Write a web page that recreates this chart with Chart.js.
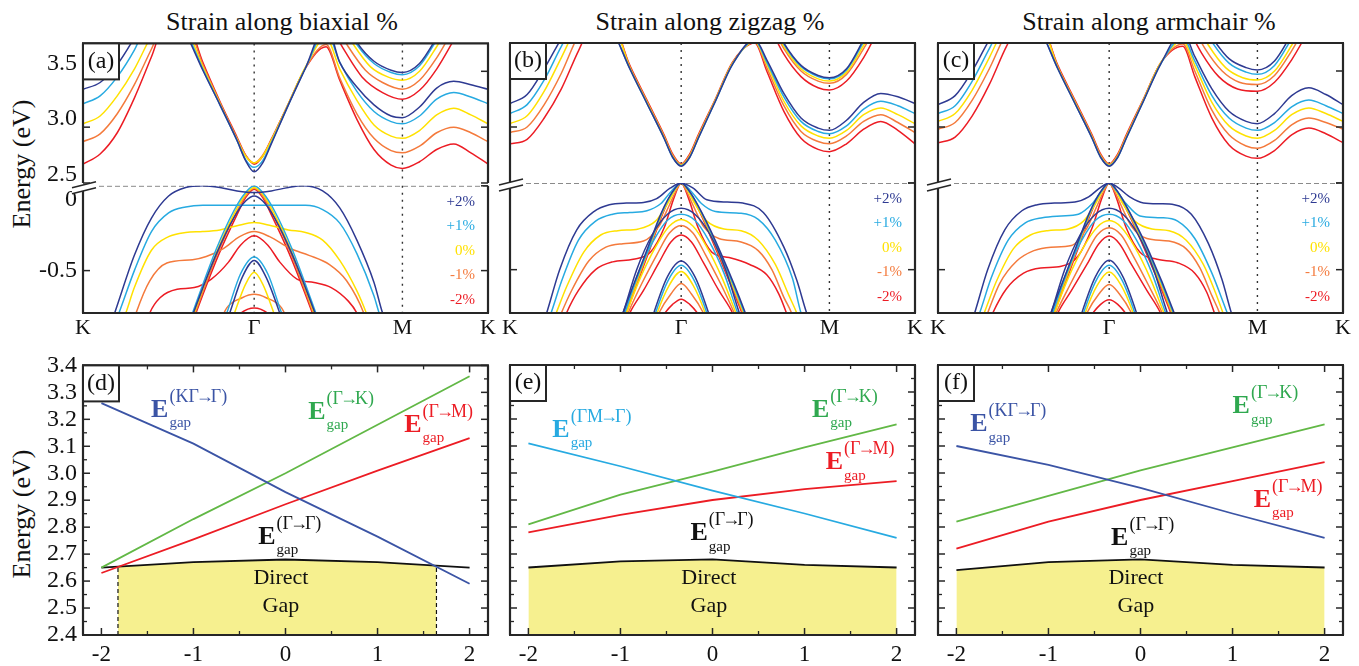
<!DOCTYPE html>
<html>
<head>
<meta charset="utf-8">
<script src="https://cdn.jsdelivr.net/npm/chart.js@4.4.1/dist/chart.umd.min.js"></script>
<style>
  body { margin: 0; width: 1359px; height: 666px; background: #fff; position: relative; overflow: hidden;
         font-family: "Liberation Serif", "Times New Roman", serif; color: #111; }
  canvas { position: absolute; }
  .title { position: absolute; top: 7px; font-size: 26px; line-height: 30px; transform: translateX(-50%); white-space: nowrap; }
  .ylab { position: absolute; font-size: 26px; line-height: 30px; white-space: nowrap; transform: translate(-50%, -50%) rotate(-90deg); }
</style>
</head>
<body>
<div class="title" style="left:282px">Strain along biaxial %</div>
<div class="title" style="left:710px">Strain along zigzag %</div>
<div class="title" style="left:1149px">Strain along armchair %</div>
<div class="ylab" style="left:22px;top:164px">Energy (eV)</div>
<div class="ylab" style="left:22px;top:514px">Energy (eV)</div>
<script>
// ---------- top row: bands along K - Γ - M - K (k, E in eV) ----------
const kTicks = [0, 1, 1.866, 2.366];
const kLabels = ['K', 'Γ', 'M', 'K'];
const cbTicks = [2.5, 3.0, 3.5];
const vbTicks = [-0.5, 0];
const strainNames = ['+2%', '+1%', '0%', '-1%', '-2%'];
const strainColors = ['#2e3a92', '#27aae1', '#ffe100', '#f47a3c', '#ec1c24'];

// each list: +2%, +1%, 0%, -1%, -2%
const biaxialCB1 = [
  [[0,3.34],[0.1,3.40],[0.2,3.56],[0.3,3.80],[0.45,4.2],[0.6,3.84],[0.7,3.51],[0.8,3.20],[0.9,2.88],[0.95,2.70],[1,2.60],[1.05,2.68],[1.1,2.85],[1.2,3.20],[1.3,3.53],[1.42,3.92],[1.5,3.58],[1.6,3.36],[1.7,3.20],[1.8,3.10],[1.866,3.085],[1.966,3.18],[2.066,3.35],[2.166,3.41],[2.266,3.38],[2.366,3.34]],
  [[0,3.21],[0.1,3.28],[0.2,3.45],[0.3,3.69],[0.45,4.15],[0.6,3.86],[0.7,3.52],[0.8,3.20],[0.9,2.88],[0.95,2.71],[1,2.64],[1.05,2.70],[1.1,2.86],[1.2,3.20],[1.3,3.53],[1.42,3.86],[1.5,3.58],[1.6,3.32],[1.7,3.14],[1.8,3.05],[1.866,3.03],[1.966,3.10],[2.066,3.25],[2.166,3.31],[2.266,3.27],[2.366,3.21]],
  [[0,3.03],[0.1,3.10],[0.2,3.28],[0.3,3.52],[0.4,3.82],[0.5,4.05],[0.6,3.90],[0.7,3.54],[0.8,3.21],[0.9,2.89],[0.95,2.74],[1,2.68],[1.05,2.74],[1.1,2.88],[1.2,3.21],[1.3,3.54],[1.42,3.80],[1.5,3.52],[1.6,3.24],[1.7,3.02],[1.8,2.92],[1.866,2.90],[1.966,2.97],[2.066,3.11],[2.166,3.17],[2.266,3.11],[2.366,3.03]],
  [[0,2.87],[0.1,2.94],[0.2,3.12],[0.3,3.38],[0.4,3.70],[0.5,4.0],[0.6,3.95],[0.7,3.56],[0.8,3.22],[0.9,2.90],[0.95,2.75],[1,2.68],[1.05,2.75],[1.1,2.89],[1.2,3.21],[1.3,3.53],[1.42,3.74],[1.5,3.44],[1.6,3.12],[1.7,2.90],[1.8,2.79],[1.866,2.77],[1.966,2.83],[2.066,2.95],[2.166,3.0],[2.266,2.95],[2.366,2.87]],
  [[0,2.67],[0.1,2.76],[0.2,2.95],[0.3,3.26],[0.4,3.63],[0.5,4.0],[0.6,3.97],[0.7,3.58],[0.8,3.23],[0.9,2.91],[0.95,2.75],[1,2.67],[1.05,2.74],[1.1,2.89],[1.2,3.21],[1.3,3.53],[1.42,3.72],[1.5,3.42],[1.6,3.07],[1.7,2.80],[1.8,2.66],[1.866,2.63],[1.966,2.69],[2.066,2.80],[2.166,2.85],[2.266,2.77],[2.366,2.67]]
];
const biaxialCB2 = [
  [[1.5,4.05],[1.6,3.76],[1.7,3.59],[1.8,3.51],[1.866,3.49],[1.966,3.57],[2.066,3.80],[2.166,4.05]],
  [[1.5,4.0],[1.6,3.74],[1.7,3.57],[1.8,3.49],[1.866,3.47],[1.966,3.55],[2.066,3.78],[2.166,4.03]],
  [[1.48,4.0],[1.58,3.74],[1.68,3.54],[1.78,3.45],[1.866,3.42],[1.966,3.50],[2.066,3.72],[2.166,3.98]],
  [[1.45,3.98],[1.55,3.72],[1.65,3.51],[1.75,3.40],[1.866,3.34],[1.966,3.42],[2.066,3.62],[2.166,3.88],[2.266,4.1]],
  [[1.43,3.95],[1.53,3.68],[1.63,3.45],[1.75,3.31],[1.866,3.25],[1.966,3.33],[2.066,3.52],[2.166,3.78],[2.266,4.05]]
];
const biaxialVB1 = [
  [[0.15,-0.85],[0.185,-0.75],[0.3,-0.41],[0.4,-0.19],[0.5,-0.06],[0.6,-0.01],[0.7,0],[0.8,-0.01],[0.9,-0.03],[1,-0.04],[1.1,-0.03],[1.2,-0.01],[1.28,0],[1.4,-0.03],[1.5,-0.13],[1.6,-0.32],[1.7,-0.57],[1.75,-0.75],[1.79,-0.85]],
  [[0.17,-0.85],[0.21,-0.75],[0.3,-0.50],[0.4,-0.27],[0.5,-0.16],[0.6,-0.125],[0.7,-0.115],[1,-0.115],[1.3,-0.115],[1.4,-0.14],[1.5,-0.22],[1.6,-0.40],[1.7,-0.65],[1.73,-0.75],[1.77,-0.85]],
  [[0.21,-0.85],[0.25,-0.75],[0.3,-0.60],[0.4,-0.38],[0.5,-0.30],[0.6,-0.275],[0.7,-0.27],[0.8,-0.26],[0.9,-0.235],[1,-0.217],[1.1,-0.235],[1.2,-0.26],[1.3,-0.275],[1.4,-0.32],[1.5,-0.44],[1.6,-0.62],[1.655,-0.75],[1.69,-0.85]],
  [[0.28,-0.85],[0.31,-0.75],[0.39,-0.56],[0.49,-0.455],[0.64,-0.436],[0.72,-0.417],[0.82,-0.37],[0.915,-0.30],[1,-0.27],[1.09,-0.30],[1.21,-0.37],[1.32,-0.41],[1.44,-0.465],[1.54,-0.56],[1.64,-0.75],[1.67,-0.85]],
  [[0.36,-0.85],[0.39,-0.75],[0.45,-0.66],[0.55,-0.61],[0.65,-0.60],[0.75,-0.55],[0.85,-0.45],[0.92,-0.35],[1,-0.295],[1.08,-0.35],[1.15,-0.45],[1.25,-0.55],[1.35,-0.57],[1.45,-0.60],[1.55,-0.68],[1.6,-0.75],[1.64,-0.85]]
];
const biaxialVB2 = [
  [[0.61,-0.85],[0.645,-0.75],[0.78,-0.40],[0.88,-0.19],[0.95,-0.09],[1,-0.06],[1.05,-0.09],[1.12,-0.19],[1.22,-0.40],[1.355,-0.75],[1.39,-0.85]],
  [[0.605,-0.85],[0.64,-0.75],[0.78,-0.37],[0.88,-0.15],[0.95,-0.04],[1,0],[1.05,-0.04],[1.12,-0.15],[1.22,-0.37],[1.36,-0.75],[1.395,-0.85]],
  [[0.615,-0.85],[0.65,-0.75],[0.785,-0.38],[0.885,-0.16],[0.95,-0.05],[1,-0.01],[1.05,-0.05],[1.115,-0.16],[1.215,-0.38],[1.35,-0.75],[1.385,-0.85]],
  [[0.62,-0.85],[0.655,-0.75],[0.79,-0.39],[0.89,-0.17],[0.95,-0.06],[1,-0.015],[1.05,-0.06],[1.11,-0.17],[1.21,-0.39],[1.345,-0.75],[1.38,-0.85]],
  [[0.625,-0.85],[0.66,-0.75],[0.795,-0.40],[0.895,-0.18],[0.95,-0.07],[1,-0.02],[1.05,-0.07],[1.105,-0.18],[1.205,-0.40],[1.34,-0.75],[1.375,-0.85]]
];
const biaxialVB3 = [
  [[0.82,-0.85],[0.857,-0.75],[0.93,-0.54],[1,-0.44],[1.07,-0.54],[1.149,-0.75],[1.18,-0.85]],
  [[0.80,-0.85],[0.84,-0.75],[0.92,-0.52],[1,-0.42],[1.08,-0.52],[1.16,-0.75],[1.2,-0.85]],
  [[0.85,-0.85],[0.885,-0.75],[0.95,-0.58],[1,-0.51],[1.05,-0.58],[1.115,-0.75],[1.15,-0.85]],
  [[0.78,-0.85],[0.84,-0.72],[0.93,-0.66],[1,-0.64],[1.07,-0.66],[1.16,-0.72],[1.22,-0.85]],
  [[0.84,-0.85],[0.91,-0.76],[1,-0.72],[1.09,-0.76],[1.16,-0.85]]
];

const zigzagCB1 = [
  [[0,3.21],[0.1,3.29],[0.2,3.52],[0.3,3.79],[0.45,4.15],[0.6,3.86],[0.7,3.52],[0.8,3.21],[0.9,2.90],[0.95,2.73],[1,2.65],[1.05,2.73],[1.1,2.90],[1.2,3.23],[1.3,3.56],[1.43,3.78],[1.5,3.60],[1.6,3.30],[1.7,3.08],[1.8,2.99],[1.866,2.97],[1.966,3.06],[2.066,3.22],[2.166,3.30],[2.266,3.27],[2.366,3.21]],
  [[0,3.12],[0.1,3.20],[0.2,3.42],[0.3,3.72],[0.45,4.1],[0.6,3.86],[0.7,3.52],[0.8,3.21],[0.9,2.90],[0.95,2.73],[1,2.655],[1.05,2.73],[1.1,2.90],[1.2,3.23],[1.3,3.56],[1.43,3.77],[1.5,3.58],[1.6,3.27],[1.7,3.05],[1.8,2.96],[1.866,2.94],[1.966,3.01],[2.066,3.16],[2.166,3.23],[2.266,3.19],[2.366,3.12]],
  [[0,3.03],[0.1,3.10],[0.2,3.32],[0.3,3.62],[0.4,3.92],[0.55,4.1],[0.7,3.53],[0.8,3.22],[0.9,2.91],[0.95,2.74],[1,2.66],[1.05,2.74],[1.1,2.91],[1.2,3.24],[1.3,3.57],[1.43,3.76],[1.5,3.56],[1.6,3.23],[1.7,3.01],[1.8,2.92],[1.866,2.90],[1.966,2.97],[2.066,3.11],[2.166,3.17],[2.266,3.11],[2.366,3.03]],
  [[0,2.95],[0.1,3.0],[0.2,3.20],[0.3,3.48],[0.4,3.82],[0.55,4.1],[0.7,3.54],[0.8,3.23],[0.9,2.92],[0.95,2.75],[1,2.665],[1.05,2.75],[1.1,2.92],[1.2,3.24],[1.3,3.57],[1.43,3.76],[1.5,3.53],[1.6,3.19],[1.7,2.96],[1.8,2.87],[1.866,2.85],[1.966,2.92],[2.066,3.05],[2.166,3.11],[2.266,3.04],[2.366,2.95]],
  [[0,2.85],[0.1,2.89],[0.2,3.08],[0.3,3.34],[0.4,3.68],[0.55,4.1],[0.7,3.55],[0.8,3.24],[0.9,2.93],[0.95,2.76],[1,2.67],[1.05,2.76],[1.1,2.93],[1.2,3.25],[1.3,3.58],[1.43,3.75],[1.5,3.50],[1.6,3.14],[1.7,2.90],[1.8,2.80],[1.866,2.78],[1.966,2.85],[2.066,2.98],[2.166,3.05],[2.266,2.97],[2.366,2.85]]
];
const zigzagCB2 = [
  [[1.5,4.05],[1.6,3.75],[1.7,3.55],[1.8,3.46],[1.866,3.44],[1.966,3.52],[2.066,3.78],[2.166,4.05]],
  [[1.5,4.05],[1.6,3.74],[1.7,3.54],[1.8,3.45],[1.866,3.43],[1.966,3.51],[2.066,3.76],[2.166,4.03]],
  [[1.5,4.02],[1.6,3.72],[1.7,3.52],[1.8,3.43],[1.866,3.41],[1.966,3.49],[2.066,3.73],[2.166,4.0]],
  [[1.5,4.0],[1.6,3.70],[1.7,3.50],[1.8,3.41],[1.866,3.39],[1.966,3.47],[2.066,3.70],[2.166,3.97]],
  [[1.5,3.95],[1.6,3.65],[1.7,3.45],[1.8,3.35],[1.866,3.33],[1.966,3.41],[2.066,3.62],[2.166,3.90],[2.266,4.1]]
];
const zigzagVB1 = [
  [[0.18,-0.85],[0.214,-0.75],[0.29,-0.50],[0.39,-0.27],[0.49,-0.165],[0.58,-0.126],[0.68,-0.116],[0.78,-0.112],[0.857,-0.09],[0.935,-0.03],[1,0],[1.07,-0.03],[1.15,-0.097],[1.27,-0.11],[1.36,-0.116],[1.48,-0.17],[1.6,-0.37],[1.675,-0.56],[1.733,-0.75],[1.77,-0.85]],
  [[0.2,-0.85],[0.24,-0.75],[0.3,-0.57],[0.4,-0.33],[0.5,-0.22],[0.6,-0.18],[0.7,-0.17],[0.8,-0.16],[0.88,-0.12],[0.94,-0.05],[1,0],[1.06,-0.05],[1.12,-0.12],[1.2,-0.165],[1.35,-0.175],[1.45,-0.21],[1.55,-0.33],[1.65,-0.55],[1.70,-0.75],[1.74,-0.85]],
  [[0.23,-0.85],[0.27,-0.75],[0.33,-0.60],[0.43,-0.40],[0.53,-0.30],[0.63,-0.275],[0.75,-0.265],[0.85,-0.22],[0.92,-0.12],[0.97,-0.03],[1,0],[1.03,-0.03],[1.08,-0.12],[1.15,-0.22],[1.25,-0.265],[1.35,-0.275],[1.45,-0.33],[1.55,-0.47],[1.63,-0.65],[1.675,-0.75],[1.71,-0.85]],
  [[0.26,-0.85],[0.30,-0.75],[0.36,-0.62],[0.46,-0.45],[0.56,-0.37],[0.66,-0.35],[0.78,-0.335],[0.87,-0.25],[0.93,-0.13],[0.975,-0.035],[1,0],[1.025,-0.035],[1.07,-0.13],[1.13,-0.25],[1.22,-0.32],[1.35,-0.34],[1.45,-0.39],[1.53,-0.50],[1.6,-0.66],[1.645,-0.75],[1.68,-0.85]],
  [[0.29,-0.85],[0.33,-0.75],[0.40,-0.62],[0.5,-0.50],[0.6,-0.455],[0.72,-0.44],[0.82,-0.40],[0.9,-0.26],[0.96,-0.08],[1,0],[1.04,-0.08],[1.1,-0.26],[1.18,-0.40],[1.28,-0.43],[1.4,-0.47],[1.5,-0.53],[1.57,-0.64],[1.615,-0.75],[1.65,-0.85]]
];
const zigzagVB2 = [
  [[0.625,-0.85],[0.66,-0.75],[0.795,-0.40],[0.885,-0.17],[0.95,-0.05],[1,0],[1.05,-0.05],[1.12,-0.17],[1.23,-0.40],[1.375,-0.75],[1.41,-0.85]],
  [[0.63,-0.85],[0.665,-0.75],[0.80,-0.40],[0.888,-0.17],[0.952,-0.05],[1,0],[1.048,-0.05],[1.118,-0.17],[1.225,-0.40],[1.37,-0.75],[1.405,-0.85]],
  [[0.635,-0.85],[0.67,-0.75],[0.803,-0.40],[0.89,-0.17],[0.953,-0.05],[1,0],[1.047,-0.05],[1.115,-0.17],[1.22,-0.40],[1.365,-0.75],[1.40,-0.85]],
  [[0.64,-0.85],[0.675,-0.75],[0.806,-0.40],[0.892,-0.17],[0.954,-0.05],[1,0],[1.046,-0.05],[1.112,-0.17],[1.215,-0.40],[1.36,-0.75],[1.395,-0.85]],
  [[0.645,-0.85],[0.68,-0.75],[0.81,-0.40],[0.895,-0.17],[0.955,-0.05],[1,0],[1.045,-0.05],[1.11,-0.17],[1.21,-0.40],[1.355,-0.75],[1.39,-0.85]]
];
const zigzagVB3 = [
  [[0.62,-0.85],[0.66,-0.75],[0.74,-0.50],[0.83,-0.30],[0.92,-0.18],[1,-0.145],[1.08,-0.18],[1.17,-0.30],[1.26,-0.50],[1.34,-0.75],[1.38,-0.85]],
  [[0.63,-0.85],[0.67,-0.75],[0.75,-0.52],[0.84,-0.33],[0.92,-0.215],[1,-0.18],[1.08,-0.215],[1.16,-0.33],[1.25,-0.52],[1.33,-0.75],[1.37,-0.85]],
  [[0.64,-0.85],[0.68,-0.75],[0.76,-0.55],[0.85,-0.37],[0.93,-0.25],[1,-0.21],[1.07,-0.25],[1.15,-0.37],[1.24,-0.55],[1.32,-0.75],[1.36,-0.85]],
  [[0.65,-0.85],[0.69,-0.75],[0.77,-0.58],[0.86,-0.41],[0.93,-0.29],[1,-0.245],[1.07,-0.29],[1.14,-0.41],[1.23,-0.58],[1.31,-0.75],[1.35,-0.85]],
  [[0.66,-0.85],[0.70,-0.75],[0.78,-0.62],[0.87,-0.46],[0.94,-0.34],[1,-0.30],[1.06,-0.34],[1.13,-0.46],[1.22,-0.62],[1.30,-0.75],[1.34,-0.85]]
];
const zigzagVB4 = [
  [[0.81,-0.85],[0.84,-0.75],[0.92,-0.54],[1,-0.45],[1.08,-0.54],[1.16,-0.75],[1.19,-0.85]],
  [[0.82,-0.85],[0.85,-0.75],[0.925,-0.56],[1,-0.475],[1.075,-0.56],[1.15,-0.75],[1.18,-0.85]],
  [[0.83,-0.85],[0.86,-0.75],[0.93,-0.59],[1,-0.51],[1.07,-0.59],[1.14,-0.75],[1.17,-0.85]],
  [[0.83,-0.85],[0.87,-0.75],[0.94,-0.64],[1,-0.58],[1.06,-0.64],[1.13,-0.75],[1.17,-0.85]],
  [[0.84,-0.85],[0.89,-0.77],[0.95,-0.70],[1,-0.67],[1.05,-0.70],[1.11,-0.77],[1.16,-0.85]]
];

const armchairCB1 = [
  [[0,3.20],[0.1,3.28],[0.2,3.50],[0.3,3.78],[0.45,4.15],[0.6,3.86],[0.7,3.52],[0.8,3.21],[0.9,2.90],[0.95,2.73],[1,2.65],[1.05,2.73],[1.1,2.90],[1.2,3.23],[1.3,3.56],[1.43,3.85],[1.5,3.63],[1.6,3.34],[1.7,3.14],[1.8,3.05],[1.866,3.03],[1.966,3.12],[2.066,3.28],[2.166,3.35],[2.266,3.29],[2.366,3.20]],
  [[0,3.12],[0.1,3.19],[0.2,3.41],[0.3,3.70],[0.45,4.1],[0.6,3.86],[0.7,3.52],[0.8,3.21],[0.9,2.90],[0.95,2.73],[1,2.655],[1.05,2.73],[1.1,2.90],[1.2,3.23],[1.3,3.56],[1.43,3.80],[1.5,3.59],[1.6,3.28],[1.7,3.08],[1.8,2.99],[1.866,2.97],[1.966,3.04],[2.066,3.18],[2.166,3.24],[2.266,3.19],[2.366,3.12]],
  [[0,3.05],[0.1,3.12],[0.2,3.33],[0.3,3.62],[0.4,3.92],[0.55,4.1],[0.7,3.53],[0.8,3.22],[0.9,2.91],[0.95,2.74],[1,2.66],[1.05,2.74],[1.1,2.91],[1.2,3.24],[1.3,3.57],[1.43,3.77],[1.5,3.55],[1.6,3.22],[1.7,3.01],[1.8,2.92],[1.866,2.90],[1.966,2.97],[2.066,3.11],[2.166,3.17],[2.266,3.12],[2.366,3.05]],
  [[0,2.98],[0.1,3.04],[0.2,3.24],[0.3,3.52],[0.4,3.84],[0.55,4.1],[0.7,3.54],[0.8,3.23],[0.9,2.92],[0.95,2.75],[1,2.665],[1.05,2.75],[1.1,2.92],[1.2,3.24],[1.3,3.57],[1.43,3.74],[1.5,3.50],[1.6,3.15],[1.7,2.93],[1.8,2.83],[1.866,2.81],[1.966,2.88],[2.066,3.02],[2.166,3.08],[2.266,3.04],[2.366,2.98]],
  [[0,2.86],[0.1,2.91],[0.2,3.10],[0.3,3.38],[0.4,3.72],[0.55,4.1],[0.7,3.55],[0.8,3.24],[0.9,2.93],[0.95,2.76],[1,2.67],[1.05,2.76],[1.1,2.93],[1.2,3.25],[1.3,3.57],[1.43,3.72],[1.5,3.45],[1.6,3.08],[1.7,2.84],[1.8,2.74],[1.866,2.72],[1.966,2.79],[2.066,2.93],[2.166,2.99],[2.266,2.94],[2.366,2.86]]
];
const armchairCB2 = [
  [[1.5,4.05],[1.6,3.80],[1.7,3.61],[1.8,3.53],[1.866,3.51],[1.966,3.59],[2.066,3.83],[2.166,4.08]],
  [[1.5,4.02],[1.6,3.76],[1.7,3.57],[1.8,3.49],[1.866,3.47],[1.966,3.55],[2.066,3.79],[2.166,4.05]],
  [[1.48,4.0],[1.58,3.73],[1.68,3.53],[1.78,3.44],[1.866,3.42],[1.966,3.50],[2.066,3.73],[2.166,4.0]],
  [[1.46,3.98],[1.56,3.70],[1.66,3.50],[1.76,3.40],[1.866,3.38],[1.966,3.46],[2.066,3.68],[2.166,3.95]],
  [[1.44,3.95],[1.54,3.66],[1.64,3.45],[1.75,3.34],[1.866,3.32],[1.966,3.40],[2.066,3.60],[2.166,3.86],[2.266,4.1]]
];
const armchairVB1 = [
  [[0.18,-0.85],[0.214,-0.75],[0.29,-0.50],[0.39,-0.27],[0.49,-0.16],[0.58,-0.125],[0.68,-0.116],[0.8,-0.11],[0.88,-0.08],[0.95,-0.025],[1,0],[1.05,-0.025],[1.12,-0.08],[1.2,-0.115],[1.3,-0.12],[1.38,-0.125],[1.48,-0.18],[1.58,-0.35],[1.66,-0.56],[1.714,-0.75],[1.75,-0.85]],
  [[0.2,-0.85],[0.243,-0.75],[0.31,-0.55],[0.41,-0.33],[0.51,-0.23],[0.61,-0.20],[0.72,-0.19],[0.82,-0.18],[0.9,-0.12],[0.96,-0.04],[1,0],[1.04,-0.04],[1.1,-0.12],[1.18,-0.19],[1.3,-0.20],[1.4,-0.22],[1.5,-0.32],[1.6,-0.52],[1.69,-0.75],[1.73,-0.85]],
  [[0.23,-0.85],[0.27,-0.75],[0.34,-0.57],[0.44,-0.38],[0.54,-0.30],[0.64,-0.275],[0.76,-0.265],[0.85,-0.22],[0.92,-0.12],[0.97,-0.03],[1,0],[1.03,-0.03],[1.08,-0.12],[1.15,-0.22],[1.25,-0.265],[1.35,-0.275],[1.45,-0.33],[1.55,-0.47],[1.62,-0.63],[1.665,-0.75],[1.70,-0.85]],
  [[0.25,-0.85],[0.29,-0.75],[0.36,-0.58],[0.46,-0.45],[0.56,-0.39],[0.66,-0.37],[0.78,-0.36],[0.87,-0.26],[0.93,-0.13],[0.975,-0.035],[1,0],[1.025,-0.035],[1.07,-0.13],[1.13,-0.25],[1.22,-0.32],[1.35,-0.335],[1.45,-0.38],[1.53,-0.49],[1.6,-0.65],[1.645,-0.75],[1.68,-0.85]],
  [[0.28,-0.85],[0.32,-0.75],[0.40,-0.61],[0.5,-0.52],[0.6,-0.49],[0.72,-0.48],[0.82,-0.42],[0.9,-0.26],[0.96,-0.08],[1,0],[1.04,-0.08],[1.1,-0.26],[1.18,-0.40],[1.28,-0.44],[1.4,-0.46],[1.5,-0.52],[1.57,-0.63],[1.615,-0.75],[1.65,-0.85]]
];
const armchairVB2 = [
  [[0.625,-0.85],[0.66,-0.75],[0.795,-0.40],[0.885,-0.17],[0.95,-0.05],[1,0],[1.05,-0.05],[1.12,-0.17],[1.235,-0.40],[1.38,-0.75],[1.415,-0.85]],
  [[0.63,-0.85],[0.665,-0.75],[0.80,-0.40],[0.888,-0.17],[0.952,-0.05],[1,0],[1.048,-0.05],[1.118,-0.17],[1.23,-0.40],[1.375,-0.75],[1.41,-0.85]],
  [[0.635,-0.85],[0.67,-0.75],[0.803,-0.40],[0.89,-0.17],[0.953,-0.05],[1,0],[1.047,-0.05],[1.115,-0.17],[1.225,-0.40],[1.37,-0.75],[1.405,-0.85]],
  [[0.64,-0.85],[0.675,-0.75],[0.806,-0.40],[0.892,-0.17],[0.954,-0.05],[1,0],[1.046,-0.05],[1.112,-0.17],[1.22,-0.40],[1.365,-0.75],[1.40,-0.85]],
  [[0.645,-0.85],[0.68,-0.75],[0.81,-0.40],[0.895,-0.17],[0.955,-0.05],[1,0],[1.045,-0.05],[1.11,-0.17],[1.215,-0.40],[1.36,-0.75],[1.395,-0.85]]
];
const armchairVB3 = [
  [[0.62,-0.85],[0.66,-0.75],[0.74,-0.50],[0.83,-0.30],[0.92,-0.18],[1,-0.145],[1.08,-0.18],[1.17,-0.30],[1.26,-0.50],[1.34,-0.75],[1.38,-0.85]],
  [[0.63,-0.85],[0.67,-0.75],[0.75,-0.52],[0.84,-0.33],[0.92,-0.215],[1,-0.18],[1.08,-0.215],[1.16,-0.33],[1.25,-0.52],[1.33,-0.75],[1.37,-0.85]],
  [[0.64,-0.85],[0.68,-0.75],[0.76,-0.55],[0.85,-0.37],[0.93,-0.255],[1,-0.217],[1.07,-0.255],[1.15,-0.37],[1.24,-0.55],[1.32,-0.75],[1.36,-0.85]],
  [[0.65,-0.85],[0.69,-0.75],[0.77,-0.59],[0.86,-0.42],[0.93,-0.30],[1,-0.258],[1.07,-0.30],[1.14,-0.42],[1.23,-0.59],[1.31,-0.75],[1.35,-0.85]],
  [[0.66,-0.85],[0.70,-0.75],[0.78,-0.62],[0.87,-0.47],[0.94,-0.35],[1,-0.306],[1.06,-0.35],[1.13,-0.47],[1.22,-0.62],[1.30,-0.75],[1.34,-0.85]]
];
const armchairVB4 = [
  [[0.81,-0.85],[0.84,-0.75],[0.92,-0.54],[1,-0.446],[1.08,-0.54],[1.16,-0.75],[1.19,-0.85]],
  [[0.82,-0.85],[0.85,-0.75],[0.925,-0.56],[1,-0.475],[1.075,-0.56],[1.15,-0.75],[1.18,-0.85]],
  [[0.83,-0.85],[0.86,-0.75],[0.93,-0.59],[1,-0.513],[1.07,-0.59],[1.14,-0.75],[1.17,-0.85]],
  [[0.83,-0.85],[0.87,-0.75],[0.94,-0.64],[1,-0.585],[1.06,-0.64],[1.13,-0.75],[1.17,-0.85]],
  [[0.84,-0.85],[0.89,-0.77],[0.95,-0.70],[1,-0.674],[1.05,-0.70],[1.11,-0.77],[1.16,-0.85]]
];

// ---------- bottom row: gaps (eV) against strain (%) ----------
const strainX = [-2, -1, 0, 1, 2];
const strainTicks = [-2, -1, 0, 1, 2];
const gapTicks = [2.4, 2.5, 2.6, 2.7, 2.8, 2.9, 3.0, 3.1, 3.2, 3.3, 3.4];
const biaxialKGG = [3.26, 3.11, 2.93, 2.765, 2.59];
const biaxialGK = [2.65, 2.83, 3.0, 3.18, 3.36];
const biaxialGM = [2.63, 2.755, 2.885, 3.01, 3.13];
const biaxialGG = [2.65, 2.67, 2.68, 2.67, 2.65];
const biaxialDirectX = [-1.82, -1, 0, 1, 1.64];
const biaxialDirectE = [2.654, 2.67, 2.68, 2.67, 2.657];
const zigzagGMG = [3.11, 3.025, 2.935, 2.85, 2.76];
const zigzagGK = [2.81, 2.92, 3.005, 3.095, 3.18];
const zigzagGM = [2.78, 2.845, 2.90, 2.94, 2.97];
const zigzagGG = [2.65, 2.673, 2.68, 2.66, 2.65];
const armchairKGG = [3.10, 3.03, 2.945, 2.85, 2.76];
const armchairGK = [2.82, 2.915, 3.01, 3.095, 3.18];
const armchairGM = [2.72, 2.82, 2.90, 2.97, 3.04];
const armchairGG = [2.64, 2.67, 2.68, 2.66, 2.65];

const SERIF = '"Liberation Serif", "Times New Roman", serif';
const INK = '#262626';
const BLUE = '#3b54a5', GREEN = '#62b846', GREEN_TXT = '#2fa84f', RED = '#ec1c24', CYAN = '#27aae1', FILL = '#f6f08f';

Chart.defaults.font.family = SERIF;
Chart.defaults.color = '#111';

// superscript like "(KΓ→Γ)" drawn with a tighter arrow
function drawSup(ctx, text, x, y) {
  const parts = text.split('→');
  ctx.fillText(parts[0], x, y);
  let cx = x + ctx.measureText(parts[0]).width - 3;
  ctx.fillText('→', cx, y);
  cx += ctx.measureText('→').width - 3;
  ctx.fillText(parts[1], cx, y);
}

// spines, inward ticks, break marks, panel letters and in-plot text
const framePlugin = {
  id: 'frame',
  beforeDatasetsDraw(chart) {
    const f = chart.canvas.frameOpts;
    if (!f) return;
    const ctx = chart.ctx, a = chart.chartArea;
    ctx.save();
    ctx.strokeStyle = '#333';
    ctx.lineWidth = 1.4;
    ctx.setLineDash([2, 5]);
    (f.vlines || []).forEach(v => {
      const x = chart.scales.x.getPixelForValue(v);
      ctx.beginPath(); ctx.moveTo(x, a.top); ctx.lineTo(x, a.bottom); ctx.stroke();
    });
    if (f.breakLine) {
      ctx.strokeStyle = '#8a8a8a'; ctx.lineWidth = 1; ctx.setLineDash([5, 3]);
      ctx.beginPath(); ctx.moveTo(a.left, a.top + 0.5); ctx.lineTo(a.right, a.top + 0.5); ctx.stroke();
    }
    ctx.restore();
  },
  afterDatasetsDraw(chart) {
    const f = chart.canvas.frameOpts;
    if (!f) return;
    const ctx = chart.ctx, a = chart.chartArea, xs = chart.scales.x, ys = chart.scales.y;
    ctx.save();
    ctx.strokeStyle = INK;
    const seg = (x1, y1, x2, y2, w) => {
      ctx.lineWidth = w; ctx.beginPath(); ctx.moveTo(x1, y1); ctx.lineTo(x2, y2); ctx.stroke();
    };
    (f.yMajor || []).forEach(v => { const y = ys.getPixelForValue(v); seg(a.left, y, a.left + 7, y, 1.5); seg(a.right, y, a.right - 7, y, 1.5); });
    (f.yMinor || []).forEach(v => { const y = ys.getPixelForValue(v); seg(a.left, y, a.left + 4, y, 1.3); seg(a.right, y, a.right - 4, y, 1.3); });
    (f.xMajor || []).forEach(v => { const x = xs.getPixelForValue(v); seg(x, a.top, x, a.top + 7, 1.5); seg(x, a.bottom, x, a.bottom - 7, 1.5); });
    (f.xMinor || []).forEach(v => { const x = xs.getPixelForValue(v); seg(x, a.top, x, a.top + 4, 1.3); seg(x, a.bottom, x, a.bottom - 4, 1.3); });

    const s = f.sides;
    if (s.includes('top')) seg(a.left - 1, a.top, a.right + 1, a.top, 2.2);
    if (s.includes('bottom')) seg(a.left - 1, a.bottom, a.right + 1, a.bottom, 2.2);
    if (s.includes('left')) seg(a.left, a.top, a.left, a.bottom, 2.2);
    if (s.includes('right')) seg(a.right, a.top, a.right, a.bottom, 2.2);

    if (f.breakMark) {
      const L = a.left, B = a.top;
      ctx.fillStyle = '#fff';
      ctx.beginPath(); ctx.moveTo(L - 11, B + 2); ctx.lineTo(L + 13, B - 4); ctx.lineTo(L + 13, B + 2); ctx.lineTo(L - 11, B + 8); ctx.closePath(); ctx.fill();
      seg(L - 11, B + 2, L + 13, B - 4, 1.6);
      seg(L - 11, B + 8, L + 13, B + 2, 1.6);
    }
    if (f.letter) {
      ctx.fillStyle = '#fff';
      ctx.fillRect(a.left, a.top, 36, 36);
      ctx.lineWidth = 2; ctx.strokeRect(a.left, a.top, 36, 36);
      ctx.fillStyle = '#111'; ctx.font = '24px ' + SERIF; ctx.textAlign = 'center'; ctx.textBaseline = 'middle';
      ctx.fillText(f.letter, a.left + 18, a.top + 18);
    }
    if (f.legend) {
      ctx.font = '15px ' + SERIF; ctx.textAlign = 'right'; ctx.textBaseline = 'middle';
      strainNames.forEach((t, i) => {
        ctx.fillStyle = strainColors[i];
        ctx.fillText(t, a.right - 13, a.top + 16 + i * 24.5);
      });
    }
    (f.notes || []).forEach(n => {
      const px = xs.getPixelForValue(n.x), py = ys.getPixelForValue(n.y);
      ctx.fillStyle = n.c; ctx.textAlign = 'left'; ctx.textBaseline = 'middle';
      ctx.font = 'bold 26px ' + SERIF; ctx.fillText('E', px, py);
      const w = ctx.measureText('E').width;
      ctx.font = '18px ' + SERIF; drawSup(ctx, n.sup, px + w + 1, py - 13);
      ctx.font = '15px ' + SERIF; ctx.fillText('gap', px + w + 1, py + 13);
    });
    if (f.direct !== undefined) {
      const px = xs.getPixelForValue(f.direct);
      ctx.fillStyle = '#111'; ctx.font = '22px ' + SERIF; ctx.textAlign = 'center'; ctx.textBaseline = 'middle';
      ctx.fillText('Direct', px, ys.getPixelForValue(2.61));
      ctx.fillText('Gap', px, ys.getPixelForValue(2.505));
    }
    ctx.restore();
  }
};
Chart.register(framePlugin);

function makeCanvas(x0, y0, x1, y1, m, frameOpts) {
  const c = document.createElement('canvas');
  const w = x1 - x0 + m.l + m.r, h = y1 - y0 + m.t + m.b;
  c.width = w; c.height = h;
  c.style.left = (x0 - m.l) + 'px'; c.style.top = (y0 - m.t) + 'px';
  c.style.width = w + 'px'; c.style.height = h + 'px';
  c.frameOpts = frameOpts;
  document.body.appendChild(c);
  return c;
}

function bandChart(x0, x1, part, families, extra) {
  const cb = part === 'cb';
  const y0 = cb ? 43 : 183, y1 = cb ? 183 : 313;
  const m = cb ? { l: 80, r: 14, t: 20, b: 25 } : { l: 80, r: 14, t: 32, b: 30 };
  const yTicks = cb ? cbTicks : vbTicks;
  const canvas = makeCanvas(x0, y0, x1, y1, m, Object.assign({
    sides: cb ? ['top', 'left', 'right'] : ['bottom', 'left', 'right'],
    vlines: [kTicks[1], kTicks[2]],
    yMajor: yTicks,
    breakLine: !cb, breakMark: !cb, legend: !cb
  }, extra));

  const datasets = [];
  strainColors.forEach((col, i) => {
    families.forEach(fam => {
      datasets.push({
        data: fam[i].map(p => ({ x: p[0], y: p[1] })),
        borderColor: col, borderWidth: 1.5, pointRadius: 0, fill: false,
        cubicInterpolationMode: 'monotone', capBezierPoints: false
      });
    });
  });

  new Chart(canvas, {
    type: 'line',
    data: { datasets },
    options: {
      responsive: false, animation: false, events: [],
      layout: { autoPadding: false, padding: { left: 0, top: m.t, right: m.r, bottom: cb ? m.b : 0 } },
      plugins: { legend: { display: false }, tooltip: { enabled: false } },
      scales: {
        x: {
          type: 'linear', min: kTicks[0], max: kTicks[3], bounds: 'data', display: !cb,
          afterBuildTicks: s => { s.ticks = kTicks.map(v => ({ value: v })); },
          afterFit: s => { s.height = cb ? 0 : m.b; },
          grid: { display: false, drawTicks: false }, border: { display: false },
          ticks: { autoSkip: false, maxRotation: 0, padding: 2, font: { size: 22 }, callback: (v, i) => kLabels[i] }
        },
        y: {
          type: 'linear', min: cb ? 2.5 : -0.75, max: cb ? 3.75 : 0, bounds: 'data',
          afterBuildTicks: s => { s.ticks = yTicks.map(v => ({ value: v })); },
          afterFit: s => { s.width = m.l; },
          grid: { display: false, drawTicks: false }, border: { display: false },
          ticks: {
            display: !!extra.yLabels, padding: 6, font: { size: 24 }, labelOffset: cb ? -8 : 0,
            callback: v => (v === 0 ? ['', '0'] : v.toFixed(1))
          }
        }
      }
    }
  });
}

function series(xs, ys, color, more) {
  return Object.assign({
    data: xs.map((x, i) => ({ x, y: ys[i] })),
    borderColor: color, borderWidth: 1.8, pointRadius: 0, fill: false, tension: 0
  }, more || {});
}

function gapChart(x0, x1, datasets, extra) {
  const y0 = 365, y1 = 635, m = { l: 80, r: 14, t: 20, b: 40 };
  const mid = arr => arr.slice(1).map((v, i) => (v + arr[i]) / 2);
  const canvas = makeCanvas(x0, y0, x1, y1, m, Object.assign({
    sides: ['top', 'bottom', 'left', 'right'],
    yMajor: gapTicks, yMinor: mid(gapTicks), xMajor: strainTicks, xMinor: mid(strainTicks)
  }, extra));
  new Chart(canvas, {
    type: 'line',
    data: { datasets },
    options: {
      responsive: false, animation: false, events: [],
      layout: { autoPadding: false, padding: { left: 0, top: m.t, right: m.r, bottom: 0 } },
      plugins: { legend: { display: false }, tooltip: { enabled: false } },
      scales: {
        x: {
          type: 'linear', min: -2.2, max: 2.2, bounds: 'data',
          afterBuildTicks: s => { s.ticks = strainTicks.map(v => ({ value: v })); },
          afterFit: s => { s.height = m.b; },
          grid: { display: false, drawTicks: false }, border: { display: false },
          ticks: { autoSkip: false, maxRotation: 0, padding: 6, font: { size: 23 }, callback: v => String(v) }
        },
        y: {
          type: 'linear', min: gapTicks[0], max: gapTicks[gapTicks.length - 1], bounds: 'data',
          afterBuildTicks: s => { s.ticks = gapTicks.map(v => ({ value: v })); },
          afterFit: s => { s.width = m.l; },
          grid: { display: false, drawTicks: false }, border: { display: false },
          ticks: { display: !!extra.yLabels, autoSkip: false, padding: 6, font: { size: 24 }, callback: v => v.toFixed(1) }
        }
      }
    }
  });
}

// ---- top row ----
bandChart(83, 488, 'cb', [biaxialCB1, biaxialCB2], { yLabels: true, letter: '(a)' });
bandChart(83, 488, 'vb', [biaxialVB1, biaxialVB2, biaxialVB3], { yLabels: true });
bandChart(510, 915, 'cb', [zigzagCB1, zigzagCB2], { letter: '(b)' });
bandChart(510, 915, 'vb', [zigzagVB1, zigzagVB2, zigzagVB3, zigzagVB4], {});
bandChart(938, 1343, 'cb', [armchairCB1, armchairCB2], { letter: '(c)' });
bandChart(938, 1343, 'vb', [armchairVB1, armchairVB2, armchairVB3, armchairVB4], {});

// ---- bottom row ----
const dashed = { borderDash: [4, 3], borderWidth: 1.2 };
gapChart(83, 488, [
  series(strainX, biaxialKGG, BLUE),
  series(strainX, biaxialGK, GREEN),
  series(strainX, biaxialGM, RED),
  series(strainX, biaxialGG, '#111'),
  series([biaxialDirectX[0], biaxialDirectX[0]], [gapTicks[0], biaxialDirectE[0]], '#111', dashed),
  series([biaxialDirectX[4], biaxialDirectX[4]], [gapTicks[0], biaxialDirectE[4]], '#111', dashed),
  series(biaxialDirectX, biaxialDirectE, 'rgba(0,0,0,0)', { borderWidth: 0, fill: 'start', backgroundColor: FILL, order: 5 })
], {
  yLabels: true, letter: '(d)', direct: -0.05,
  notes: [
    { x: -1.46, y: 3.234, sup: '(KΓ→Γ)', c: BLUE },
    { x: 0.247, y: 3.227, sup: '(Γ→K)', c: GREEN_TXT },
    { x: 1.29, y: 3.179, sup: '(Γ→M)', c: RED },
    { x: -0.297, y: 2.764, sup: '(Γ→Γ)', c: '#111' }
  ]
});
gapChart(510, 915, [
  series(strainX, zigzagGMG, CYAN),
  series(strainX, zigzagGK, GREEN),
  series(strainX, zigzagGM, RED),
  series(strainX, zigzagGG, '#111'),
  series(strainX, zigzagGG, 'rgba(0,0,0,0)', { borderWidth: 0, fill: 'start', backgroundColor: FILL, order: 5 })
], {
  letter: '(e)', direct: -0.04,
  notes: [
    { x: -1.74, y: 3.16, sup: '(ΓM→Γ)', c: CYAN },
    { x: 1.08, y: 3.234, sup: '(Γ→K)', c: GREEN_TXT },
    { x: 1.23, y: 3.038, sup: '(Γ→M)', c: RED },
    { x: -0.24, y: 2.775, sup: '(Γ→Γ)', c: '#111' }
  ]
});
gapChart(938, 1343, [
  series(strainX, armchairKGG, BLUE),
  series(strainX, armchairGK, GREEN),
  series(strainX, armchairGM, RED),
  series(strainX, armchairGG, '#111'),
  series(strainX, armchairGG, 'rgba(0,0,0,0)', { borderWidth: 0, fill: 'start', backgroundColor: FILL, order: 5 })
], {
  letter: '(f)', direct: -0.05,
  notes: [
    { x: -1.85, y: 3.179, sup: '(KΓ→Γ)', c: BLUE },
    { x: 1.0, y: 3.246, sup: '(Γ→K)', c: GREEN_TXT },
    { x: 1.23, y: 2.90, sup: '(Γ→M)', c: RED },
    { x: -0.32, y: 2.76, sup: '(Γ→Γ)', c: '#111' }
  ]
});
</script>
</body>
</html>
